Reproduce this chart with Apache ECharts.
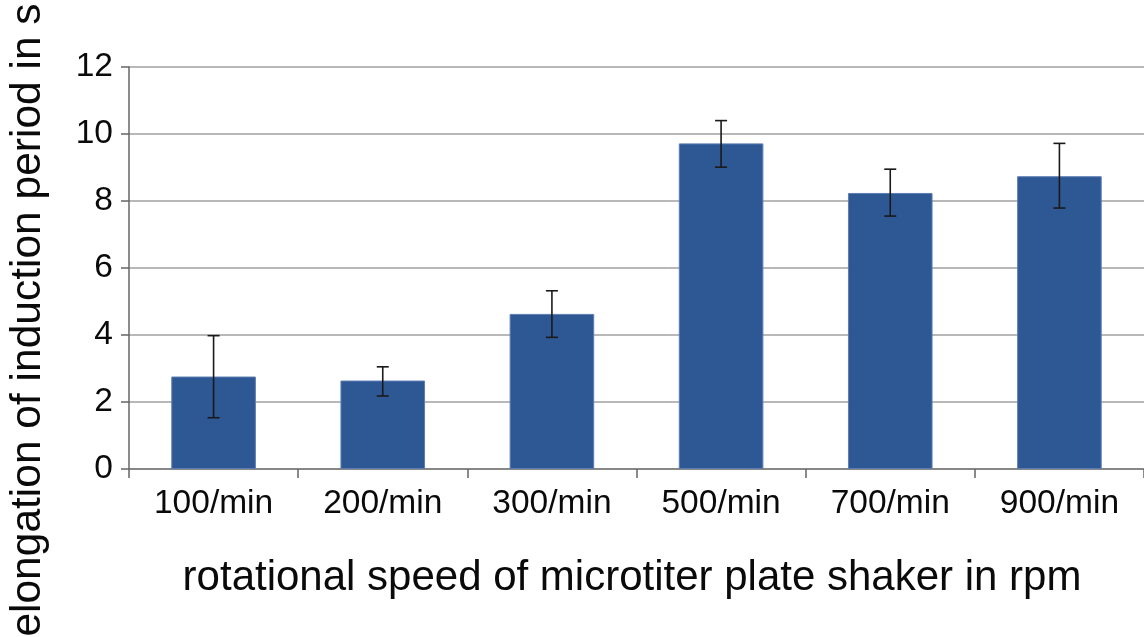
<!DOCTYPE html>
<html>
<head>
<meta charset="utf-8">
<script src="https://cdn.jsdelivr.net/npm/echarts@6/dist/echarts.min.js"></script>
<style>
  html, body { margin: 0; padding: 0; background: #fff; }
  #chart { width: 1144px; height: 637px; }
</style>
</head>
<body>
<div id="chart"></div>
<script>
const categories = ['100/min', '200/min', '300/min', '500/min', '700/min', '900/min']
const means = [2.76, 2.64, 4.63, 9.72, 8.24, 8.74]
const errLow = [1.53, 2.18, 3.93, 9.01, 7.55, 7.79]
const errHigh = [3.98, 3.05, 5.32, 10.40, 8.95, 9.72]
const yTicks = { min: 0, max: 12, interval: 2 }

const font = 'Liberation Sans, Arial, sans-serif'
const chart = echarts.init(document.getElementById('chart'))

chart.setOption({
  animation: false,
  backgroundColor: '#fff',
  grid: { left: 129, top: 67, width: 1017, bottom: 168 },
  xAxis: {
    type: 'category',
    data: categories,
    axisLine: { lineStyle: { color: '#777', width: 1.5 } },
    axisTick: { show: true, length: 9, lineStyle: { color: '#666', width: 1.5 } },
    axisLabel: { color: '#0a0a0a', fontSize: 33.5, fontFamily: font, margin: 18 },
    splitLine: { show: false }
  },
  yAxis: {
    type: 'value',
    min: yTicks.min,
    max: yTicks.max,
    interval: yTicks.interval,
    axisLine: { show: true, lineStyle: { color: '#666', width: 1.5 } },
    axisTick: { show: true, length: 8, lineStyle: { color: '#666', width: 1.5 } },
    axisLabel: { color: '#0a0a0a', fontSize: 33.5, fontFamily: font, margin: 16 },
    splitLine: { lineStyle: { color: '#a0a0a0', width: 1.5 } }
  },
  graphic: [
    {
      type: 'text',
      x: 632, y: 578,
      style: {
        text: 'rotational speed of microtiter plate shaker in rpm',
        font: '42px ' + font, fill: '#0a0a0a',
        textAlign: 'center', textVerticalAlign: 'middle'
      }
    },
    {
      type: 'text',
      x: 28, y: 320,
      rotation: Math.PI / 2,
      style: {
        text: 'elongation of induction period in s',
        font: '42.5px ' + font, fill: '#0a0a0a',
        textAlign: 'center', textVerticalAlign: 'middle'
      }
    }
  ],
  series: [
    {
      type: 'bar',
      data: means,
      barWidth: '50%',
      itemStyle: { color: '#2e5894', borderColor: '#5c7db3', borderWidth: 1 }
    },
    {
      type: 'custom',
      data: categories.map((c, i) => [i, errLow[i], errHigh[i]]),
      z: 10,
      renderItem: (params, api) => {
        const lo = api.coord([api.value(0), api.value(1)])
        const hi = api.coord([api.value(0), api.value(2)])
        const half = 6
        const style = { stroke: '#1a1a1a', lineWidth: 1.6 }
        return {
          type: 'group',
          children: [
            { type: 'line', shape: { x1: hi[0], y1: hi[1], x2: lo[0], y2: lo[1] }, style },
            { type: 'line', shape: { x1: hi[0] - half, y1: hi[1], x2: hi[0] + half, y2: hi[1] }, style },
            { type: 'line', shape: { x1: lo[0] - half, y1: lo[1], x2: lo[0] + half, y2: lo[1] }, style }
          ]
        }
      }
    }
  ]
})
</script>
</body>
</html>
